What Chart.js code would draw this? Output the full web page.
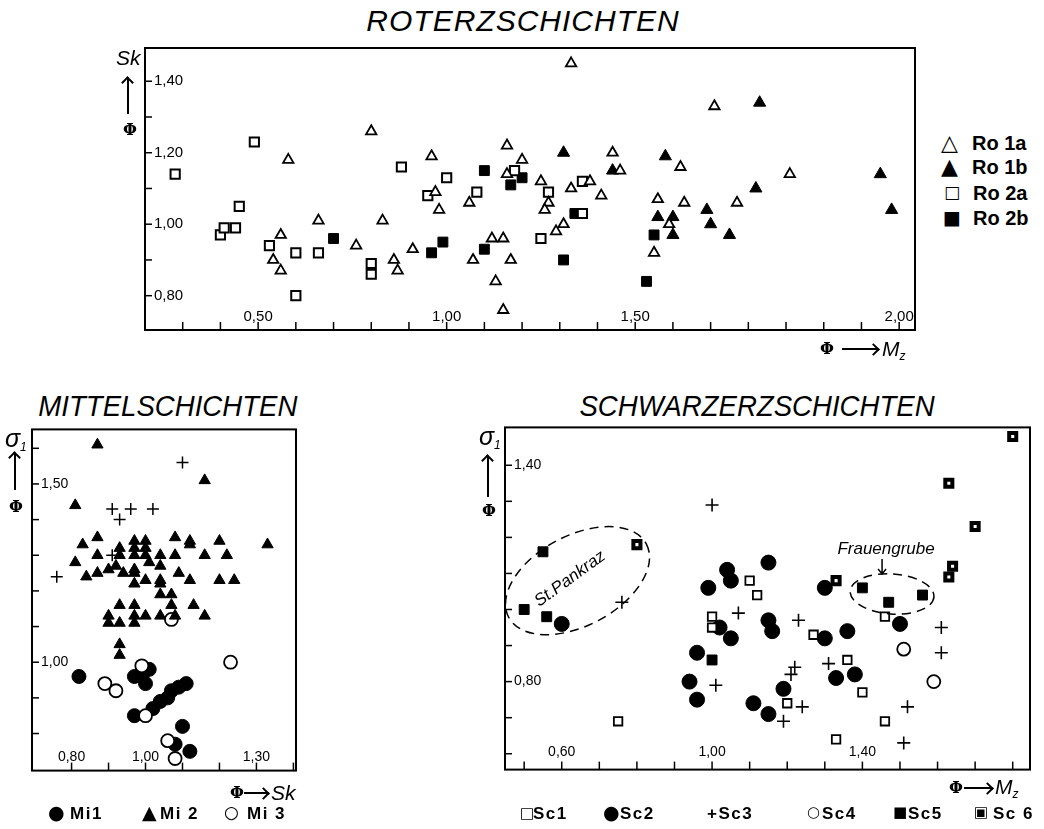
<!doctype html>
<html>
<head>
<meta charset="UTF-8">
<title>Roterz-, Mittel- und Schwarzerzschichten</title>
<style>
body{margin:0;background:#fff;}
#page{position:relative;width:1044px;height:829px;overflow:hidden;font-family:'Liberation Sans',Arial,sans-serif;color:#000;}
canvas{position:absolute;}
.t{position:absolute;line-height:1;white-space:nowrap;}
.title{font-style:italic;font-size:30px;text-align:center;}
.title span{display:inline-block;transform:scaleX(0.92);}
.ax{font-style:italic;font-size:21px;}
.ax sub{font-size:12px;vertical-align:-4px;font-style:italic;}
.phi{font-family:'DejaVu Serif',serif;font-weight:bold;font-size:16px;}
.sym{font-family:'DejaVu Sans',sans-serif;}
.leg{font-weight:bold;font-size:20px;}
.leg2{font-weight:bold;font-size:17px;letter-spacing:1.5px;}
.vl{position:absolute;width:2px;background:#000;}
.hl{position:absolute;height:2px;background:#000;}
.up{position:absolute;width:9px;height:9px;box-sizing:border-box;border-left:2px solid #000;border-top:2px solid #000;transform:rotate(45deg);}
.rt{position:absolute;width:9px;height:9px;box-sizing:border-box;border-right:2px solid #000;border-top:2px solid #000;transform:rotate(45deg);}
</style>
</head>
<body>
<div id="page">
	<div class="t title" style="left:323px;top:6px;width:400px;letter-spacing:1px;">ROTERZSCHICHTEN</div>
	<div class="t title" style="left:18px;top:391px;width:300px;"><span>MITTELSCHICHTEN</span></div>
	<div class="t title" style="left:557px;top:391px;width:400px;"><span>SCHWARZERZSCHICHTEN</span></div>

	<canvas id="roChart" width="790" height="318" style="left:135px;top:30px;"></canvas>
	<canvas id="miChart" width="284" height="376" style="left:22px;top:412px;"></canvas>
	<canvas id="scChart" width="545" height="377" style="left:495px;top:410px;"></canvas>

	<!-- Achsenbeschriftung Roterz -->
	<div class="t ax" style="left:116px;top:47px;">Sk</div>
	<div class="up" style="left:123px;top:78px;"></div><div class="vl" style="left:127px;top:79px;height:35px;"></div>
	<div class="t phi" style="left:123px;top:122px;">Φ</div>
	<div class="t phi" style="left:820px;top:341px;">Φ</div>
	<div class="hl" style="left:842px;top:348px;width:36px;"></div><div class="rt" style="left:869px;top:345px;"></div>
	<div class="t ax" style="left:882px;top:338px;">M<sub>z</sub></div>

	<!-- Legende Roterz -->
	<div class="t sym" style="left:941px;top:132px;font-size:22px;">△</div><div class="t leg" style="left:972px;top:133px;">Ro 1a</div>
	<div class="t sym" style="left:941px;top:156px;font-size:22px;">▲</div><div class="t leg" style="left:972px;top:157px;">Ro 1b</div>
	<div class="t sym" style="left:944px;top:184px;font-size:17px;">□</div><div class="t leg" style="left:973px;top:183px;">Ro 2a</div>
	<div class="t sym" style="left:943px;top:208px;font-size:19px;">■</div><div class="t leg" style="left:973px;top:208px;">Ro 2b</div>

	<!-- Achsenbeschriftung Mittel -->
	<div class="t ax" style="left:5px;top:426px;font-size:25px;">σ<sub>1</sub></div>
	<div class="up" style="left:10px;top:453px;"></div><div class="vl" style="left:14px;top:454px;height:36px;"></div>
	<div class="t phi" style="left:9px;top:499px;">Φ</div>
	<div class="t phi" style="left:230px;top:785px;">Φ</div>
	<div class="hl" style="left:244px;top:792px;width:24px;"></div><div class="rt" style="left:259px;top:789px;"></div>
	<div class="t ax" style="left:271px;top:782px;">Sk</div>

	<!-- Legende Mittel -->
	<div class="t sym" style="left:48px;top:803px;font-size:19px;">●</div><div class="t leg2" style="left:70px;top:805px;">Mi1</div>
	<div class="t sym" style="left:142px;top:803px;font-size:19px;">▲</div><div class="t leg2" style="left:160px;top:805px;">Mi 2</div>
	<div class="t sym" style="left:224px;top:804px;font-size:17px;">○</div><div class="t leg2" style="left:247px;top:805px;">Mi 3</div>

	<!-- Achsenbeschriftung Schwarzerz -->
	<div class="t ax" style="left:479px;top:424px;font-size:25px;">σ<sub>1</sub></div>
	<div class="up" style="left:483px;top:456px;"></div><div class="vl" style="left:487px;top:457px;height:40px;"></div>
	<div class="t phi" style="left:482px;top:503px;">Φ</div>
	<div class="t phi" style="left:949px;top:780px;">Φ</div>
	<div class="hl" style="left:964px;top:787px;width:28px;"></div><div class="rt" style="left:983px;top:784px;"></div>
	<div class="t ax" style="left:995px;top:776px;">M<sub>z</sub></div>

	<!-- Legende Schwarzerz -->
	<div class="t sym" style="left:520px;top:806px;font-size:15px;">□</div><div class="t leg2" style="left:533px;top:805px;">Sc1</div>
	<div class="t sym" style="left:603px;top:803px;font-size:19px;">●</div><div class="t leg2" style="left:620px;top:805px;">Sc2</div>
	<div class="t leg2" style="left:707px;top:805px;">+Sc3</div>
	<div class="t sym" style="left:807px;top:805px;font-size:15px;">○</div><div class="t leg2" style="left:822px;top:805px;">Sc4</div>
	<div class="t sym" style="left:893px;top:805px;font-size:15px;">■</div><div class="t leg2" style="left:908px;top:805px;">Sc5</div>
	<div class="t sym" style="left:974px;top:805px;font-size:15px;">▣</div><div class="t leg2" style="left:993px;top:805px;">Sc 6</div>
</div>

<script src="https://cdn.jsdelivr.net/npm/chart.js@4.4.1/dist/chart.umd.min.js"></script>
<script>
// ---- Roterzschichten (Mz gegen Sk) ----
var ro1a = [[0.58,1.18],[0.80,1.26],[0.66,1.01],[0.83,1.01],[0.56,0.97],[0.54,0.90],[0.56,0.87],[0.76,0.94],[0.86,0.90],[0.87,0.87],
	[0.91,0.93],[0.96,1.19],[0.97,1.09],[0.98,1.04],[1.06,1.06],[1.07,0.90],[1.12,0.96],[1.15,0.96],[1.13,0.84],[1.15,0.76],
	[1.17,0.90],[1.16,1.22],[1.16,1.14],[1.20,1.18],[1.25,1.12],[1.27,1.06],[1.26,1.04],[1.29,0.98],[1.33,1.45],[1.33,1.10],
	[1.31,1.00],[1.38,1.12],[1.41,1.08],[1.44,1.20],[1.46,1.15],[1.55,0.92],[1.56,1.07],[1.59,1.00],[1.62,1.16],[1.63,1.06],
	[1.71,1.33],[1.77,1.06],[1.91,1.14]];
var ro1b = [[1.31,1.20],[1.44,1.15],[1.58,1.19],[1.56,1.02],[1.60,1.02],[1.60,0.97],[1.69,1.04],[1.70,1.00],[1.75,0.97],[1.82,1.10],
	[1.83,1.34],[2.15,1.14],[2.18,1.04]];
var ro2a = [[0.28,1.14],[0.49,1.23],[0.45,1.05],[0.40,0.97],[0.41,0.99],[0.44,0.99],[0.53,0.94],[0.60,0.92],[0.66,0.92],[0.60,0.80],
	[0.80,0.89],[0.80,0.86],[0.88,1.16],[0.95,1.08],[1.00,1.13],[1.08,1.09],[1.18,1.15],[1.25,0.96],[1.27,1.09],[1.36,1.12],[1.36,1.03]];
var ro2b = [[0.70,0.96],[0.99,0.95],[0.96,0.92],[1.10,1.15],[1.10,0.93],[1.17,1.11],[1.20,1.13],[1.34,1.03],[1.31,0.90],[1.55,0.97],[1.53,0.84]];
var roXTicks = [0.3,0.4,0.5,0.6,0.7,0.8,0.9,1.0,1.1,1.2,1.3,1.4,1.5,1.6,1.7,1.8,1.9,2.0,2.1,2.2];
var roXLabels = [[0.5,'0,50'],[1.0,'1,00'],[1.5,'1,50'],[2.2,'2,00']];
var roYTicks = [0.8,0.9,1.0,1.1,1.2,1.3,1.4];
var roYLabels = [[0.8,'0,80'],[1.0,'1,00'],[1.2,'1,20'],[1.4,'1,40']];

// ---- Mittelschichten (Sk gegen sigma1) ----
var mi1 = [[0.82,0.96],[0.97,0.96],[1.00,0.94],[1.01,0.98],[0.99,0.96],[0.97,0.85],[1.02,0.87],[1.04,0.89],[1.06,0.90],[1.07,0.92],
	[1.09,0.93],[1.11,0.94],[1.10,0.82],[1.08,0.77],[1.12,0.75]];
var mi2 = [[0.87,1.61],[0.81,1.44],[1.16,1.51],[1.33,1.33],[0.87,1.35],[0.83,1.33],[0.81,1.28],[0.87,1.30],[0.84,1.24],[0.87,1.25],
	[0.90,1.26],[0.92,1.27],[0.93,1.32],[0.93,1.30],[0.94,1.25],[0.97,1.34],[0.97,1.32],[1.00,1.34],[1.00,1.32],[0.97,1.30],
	[1.00,1.30],[1.01,1.28],[0.97,1.26],[0.97,1.25],[1.00,1.23],[0.97,1.22],[1.04,1.30],[1.04,1.27],[1.08,1.35],[1.08,1.30],
	[1.12,1.34],[1.12,1.33],[1.20,1.34],[1.16,1.30],[1.22,1.30],[1.09,1.25],[1.12,1.23],[1.20,1.23],[1.24,1.23],[1.04,1.23],
	[1.04,1.22],[1.04,1.19],[1.07,1.19],[1.07,1.16],[1.13,1.16],[1.16,1.13],[0.93,1.16],[0.90,1.13],[0.93,1.11],[0.90,1.11],
	[0.97,1.16],[0.97,1.13],[0.97,1.11],[1.00,1.13],[1.04,1.13],[0.93,1.05],[0.93,1.02],[1.08,1.13]];
var mi3 = [[1.07,1.12],[1.23,1.00],[0.99,0.99],[0.89,0.94],[0.92,0.92],[1.00,0.85],[1.06,0.78],[1.08,0.73]];
var miPlus = [[1.10,1.56],[0.91,1.43],[0.96,1.43],[1.02,1.43],[0.93,1.40],[0.76,1.24],[0.91,1.30]];
var miXTicks = [0.8,0.9,1.0,1.1,1.2,1.3,1.4];
var miXLabels = [[0.8,'0,80'],[1.0,'1,00'],[1.3,'1,30']];
var miYTicks = [0.8,0.9,1.0,1.1,1.2,1.3,1.4,1.5,1.6];
var miYLabels = [[1.0,'1,00'],[1.5,'1,50']];

// ---- Schwarzerzschichten (Mz gegen sigma1) ----
var sc1 = [[0.75,0.69],[1.10,1.08],[1.12,1.04],[1.00,0.98],[1.00,0.95],[1.27,0.93],[1.46,0.98],[1.36,0.86],[1.40,0.77],[1.20,0.74],
	[1.46,0.69],[1.33,0.64]];
var sc2 = [[0.60,0.96],[1.04,1.11],[1.05,1.08],[0.99,1.06],[1.02,0.95],[1.05,0.92],[0.96,0.88],[0.94,0.80],[0.96,0.75],[1.11,0.74],
	[1.15,0.71],[1.15,1.13],[1.15,0.97],[1.16,0.94],[1.30,1.06],[1.30,0.92],[1.36,0.94],[1.50,0.96],[1.33,0.81],[1.38,0.82],[1.19,0.78]];
var sc3 = [[0.76,1.02],[1.00,1.29],[1.01,0.79],[1.07,0.99],[1.23,0.97],[1.31,0.85],[1.22,0.84],[1.21,0.82],[1.24,0.73],[1.19,0.69],
	[1.61,0.95],[1.61,0.88],[1.52,0.73],[1.51,0.63]];
var sc4 = [[1.51,0.89],[1.59,0.80]];
var sc5 = [[0.55,1.16],[0.50,1.00],[0.56,0.98],[1.00,0.86],[1.40,1.06],[1.47,1.02],[1.56,1.04]];
var sc6 = [[0.80,1.18],[1.33,1.08],[1.80,1.48],[1.63,1.35],[1.70,1.23],[1.64,1.12],[1.63,1.09]];
var scXTicks = [0.5,0.6,0.7,0.8,0.9,1.0,1.1,1.2,1.3,1.4,1.5,1.6,1.7,1.8];
var scXLabels = [[0.6,'0,60'],[1.0,'1,00'],[1.4,'1,40']];
var scYTicks = [0.6,0.7,0.8,0.9,1.0,1.1,1.2,1.3,1.4];
var scYLabels = [[0.8,'0,80'],[1.4,'1,40']];
// umrandete Gruppen: Mittelpunkt und Textposition in Datenwerten
var scGroups = [
	{name:'St.Pankraz', x:0.642, y:1.080, tx:0.622, ty:1.085},
	{name:'Frauengrube', x:1.479, y:1.043, tx:1.463, ty:1.168}
];

var tickFont = {family:"'Liberation Sans Narrow','Liberation Sans',sans-serif", size:15};
var tickFontSmall = {family:"'Liberation Sans Narrow','Liberation Sans',sans-serif", size:14};

function pts(list){
	return list.map(function(p){ return {x:p[0], y:p[1]}; });
}
function ds(label, list, style, r, fill, bw){
	return {label:label, data:pts(list), pointStyle:style, pointRadius:r, pointHoverRadius:r,
		pointBackgroundColor:fill, pointBorderColor:'#000', pointBorderWidth:bw, showLine:false};
}
function lookup(labels){
	return function(v){
		for (var i=0; i<labels.length; i++){
			if (Math.abs(labels[i][0]-v) < 1e-6) return labels[i][1];
		}
		return '';
	};
}
// Beschriftung innerhalb des Rahmens (mirror), Achsen ohne eigene Breite
function xScale(min, max, ticks, labels, font, pad){
	return {type:'linear', min:min, max:max,
		grid:{display:false, drawTicks:false}, border:{display:false},
		afterBuildTicks:function(s){ s.ticks = ticks.map(function(v){ return {value:v}; }); },
		afterFit:function(s){ s.height = 0; },
		ticks:{autoSkip:false, maxRotation:0, mirror:true, padding:pad, color:'#000', font:font, callback:lookup(labels)}};
}
function yScale(min, max, ticks, labels, font){
	return {type:'linear', min:min, max:max,
		grid:{display:false, drawTicks:false}, border:{display:false},
		afterBuildTicks:function(s){ s.ticks = ticks.map(function(v){ return {value:v}; }); },
		afterFit:function(s){ s.width = 0; },
		ticks:{autoSkip:false, mirror:true, padding:9, color:'#000', font:font, callback:lookup(labels)}};
}

// Rahmen und nach innen zeigende Teilstriche
var frame = {
	id:'frame',
	afterDraw:function(chart){
		var ctx = chart.ctx, a = chart.chartArea;
		ctx.save();
		ctx.strokeStyle = '#000';
		ctx.lineWidth = 1.5;
		chart.scales.x.ticks.forEach(function(t){
			var p = chart.scales.x.getPixelForValue(t.value);
			ctx.beginPath(); ctx.moveTo(p, a.bottom); ctx.lineTo(p, a.bottom-8); ctx.stroke();
		});
		chart.scales.y.ticks.forEach(function(t){
			var p = chart.scales.y.getPixelForValue(t.value);
			ctx.beginPath(); ctx.moveTo(a.left, p); ctx.lineTo(a.left+7, p); ctx.stroke();
		});
		ctx.lineWidth = 2;
		ctx.strokeRect(a.left, a.top, a.right-a.left, a.bottom-a.top);
		ctx.restore();
	}
};

var groupsPlugin = {
	id:'groups',
	afterDatasetsDraw:function(chart){
		var ctx = chart.ctx, xs = chart.scales.x, ys = chart.scales.y;
		ctx.save();
		ctx.strokeStyle = '#000';
		ctx.fillStyle = '#000';
		ctx.lineWidth = 1.5;
		var g = scGroups[0], f = scGroups[1];
		ctx.setLineDash([9,6]);
		ctx.beginPath();
		ctx.ellipse(xs.getPixelForValue(g.x), ys.getPixelForValue(g.y), 78, 45, -28*Math.PI/180, 0, 2*Math.PI);
		ctx.stroke();
		ctx.beginPath();
		ctx.ellipse(xs.getPixelForValue(f.x), ys.getPixelForValue(f.y), 42, 20, 4*Math.PI/180, 0, 2*Math.PI);
		ctx.stroke();
		ctx.setLineDash([]);
		ctx.font = "italic 17px 'Liberation Sans', sans-serif";
		ctx.textAlign = 'center';
		ctx.textBaseline = 'middle';
		ctx.save();
		ctx.translate(xs.getPixelForValue(g.tx), ys.getPixelForValue(g.ty));
		ctx.rotate(-36*Math.PI/180);
		ctx.fillText(g.name, 0, 0);
		ctx.restore();
		var tx = xs.getPixelForValue(f.tx), ty = ys.getPixelForValue(f.ty);
		ctx.fillText(f.name, tx, ty);
		// Pfeil zur Gruppe
		ctx.beginPath();
		ctx.moveTo(tx-4, ty+10); ctx.lineTo(tx-4, ty+25);
		ctx.moveTo(tx-8, ty+20); ctx.lineTo(tx-4, ty+25); ctx.lineTo(tx, ty+20);
		ctx.stroke();
		ctx.restore();
	}
};

function baseOptions(){
	return {responsive:false, animation:false,
		layout:{padding:10},
		plugins:{legend:{display:false}, tooltip:{enabled:false}, title:{display:false}}};
}

var roOpt = baseOptions();
roOpt.scales = {x:xScale(0.2, 2.242, roXTicks, roXLabels, tickFont, 4), y:yScale(0.704, 1.493, roYTicks, roYLabels, tickFont)};
new Chart(document.getElementById('roChart'), {
	type:'scatter',
	data:{datasets:[
		ds('Ro 1a', ro1a, 'triangle', 6, '#fff', 1.8),
		ds('Ro 1b', ro1b, 'triangle', 7, '#000', 1),
		ds('Ro 2a', ro2a, 'rect', 6.5, '#fff', 2),
		ds('Ro 2b', ro2b, 'rect', 7, '#000', 1)
	]},
	options:roOpt,
	plugins:[frame]
});

var miOpt = baseOptions();
miOpt.scales = {x:xScale(0.693, 1.407, miXTicks, miXLabels, tickFontSmall, 5), y:yScale(0.696, 1.653, miYTicks, miYLabels, tickFontSmall)};
new Chart(document.getElementById('miChart'), {
	type:'scatter',
	data:{datasets:[
		ds('Mi 2', mi2, 'triangle', 6.5, '#000', 1),
		ds('+', miPlus, 'cross', 6, '#000', 1.5),
		ds('Mi 3', mi3, 'circle', 6.5, '#fff', 1.8),
		ds('Mi 1', mi1, 'circle', 7, '#000', 1)
	]},
	options:miOpt,
	plugins:[frame]
});

var scOpt = baseOptions();
scOpt.scales = {x:xScale(0.449, 1.846, scXTicks, scXLabels, tickFontSmall, 9), y:yScale(0.556, 1.505, scYTicks, scYLabels, tickFontSmall)};
new Chart(document.getElementById('scChart'), {
	type:'scatter',
	data:{datasets:[
		ds('Sc1', sc1, 'rect', 6, '#fff', 1.8),
		ds('Sc2', sc2, 'circle', 7.5, '#000', 1),
		ds('Sc3', sc3, 'cross', 6.5, '#000', 1.6),
		ds('Sc4', sc4, 'circle', 6.5, '#fff', 1.8),
		ds('Sc5', sc5, 'rect', 7, '#000', 1),
		ds('Sc 6', sc6, 'rect', 5, '#fff', 4)
	]},
	options:scOpt,
	plugins:[frame, groupsPlugin]
});
</script>
</body>
</html>
